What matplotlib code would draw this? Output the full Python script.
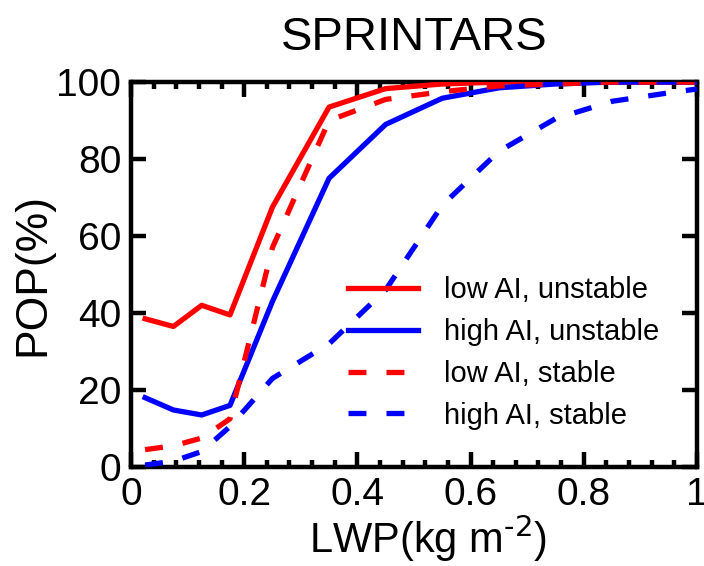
import matplotlib
matplotlib.use("Agg")
import matplotlib.pyplot as plt
from matplotlib.ticker import MultipleLocator, FixedLocator

plt.rcParams['font.family'] = ['Liberation Sans', 'DejaVu Sans']
plt.rcParams['mathtext.default'] = 'regular'

# LWP bin centres (kg m-2)
lwp = [0.025, 0.075, 0.125, 0.175, 0.25, 0.35, 0.45, 0.55, 0.65, 0.75, 0.85, 0.95, 1.0]

# probability of precipitation (%)
pop_low_unstable = [38.5, 36.5, 42.0, 39.5, 67.5, 93.5, 98.3, 99.5, 100, 100, 100, 100, 100]
pop_high_unstable = [18.0, 14.8, 13.5, 16.0, 43.0, 75.0, 89.0, 95.8, 98.5, 99.5, 100, 100, 100]
pop_low_stable = [4.5, 5.5, 7.5, 12.5, 57.0, 90.0, 95.5, 97.5, 99.0, 99.5, 100, 100, 100]
pop_high_stable = [0.5, 1.5, 4.0, 10.5, 23.0, 32.0, 46.0, 68.0, 82.0, 90.5, 95.0, 97.2, 98.2]

labels = ['low AI, unstable', 'high AI, unstable', 'low AI, stable', 'high AI, stable']
xticks = [0, 0.2, 0.4, 0.6, 0.8, 1.0]
xticklabels = ['0', '0.2', '0.4', '0.6', '0.8', '1']
yticks = [0, 20, 40, 60, 80, 100]

fig = plt.figure(figsize=(7.04, 5.66), dpi=100)
ax = fig.add_axes([0.186, 0.175, 0.804, 0.680])

lw = 3.8
dash = (3.4, 3.8)
ax.plot(lwp, pop_low_unstable, color='red', lw=lw, label=labels[0], zorder=3)
ax.plot(lwp, pop_high_unstable, color='blue', lw=lw, label=labels[1], zorder=3)
ax.plot(lwp, pop_low_stable, color='red', lw=lw, dashes=dash, label=labels[2], zorder=3)
ax.plot(lwp, pop_high_stable, color='blue', lw=lw, dashes=dash, label=labels[3], zorder=3)

ax.set_xlim(0, 1)
ax.set_ylim(0, 100)
ax.xaxis.set_major_locator(FixedLocator(xticks))
ax.set_xticklabels(xticklabels)
ax.xaxis.set_minor_locator(MultipleLocator(0.04))
ax.yaxis.set_major_locator(FixedLocator(yticks))

for s in ax.spines.values():
    s.set_linewidth(3.2)
ax.tick_params(which='both', direction='in', top=True, right=True, labelsize=28, pad=7)
ax.tick_params(which='major', length=11, width=3.2)
ax.tick_params(which='minor', length=5, width=3.2)

ax.set_xlabel(r'LWP(kg m$^{\text{-2}}$)', fontsize=30, labelpad=0)
ax.xaxis.label.set_x(0.525)
ax.set_ylabel('POP(%)', fontsize=32, labelpad=2)
ax.set_title('SPRINTARS', fontsize=34, pad=23)

ax.legend(loc='upper left', bbox_to_anchor=(0.383, 0.495), frameon=False,
          fontsize=21, handlelength=2.4, handletextpad=0.9, labelspacing=0.47,
          borderpad=0, borderaxespad=0)

fig.savefig('out.png', dpi=100)
